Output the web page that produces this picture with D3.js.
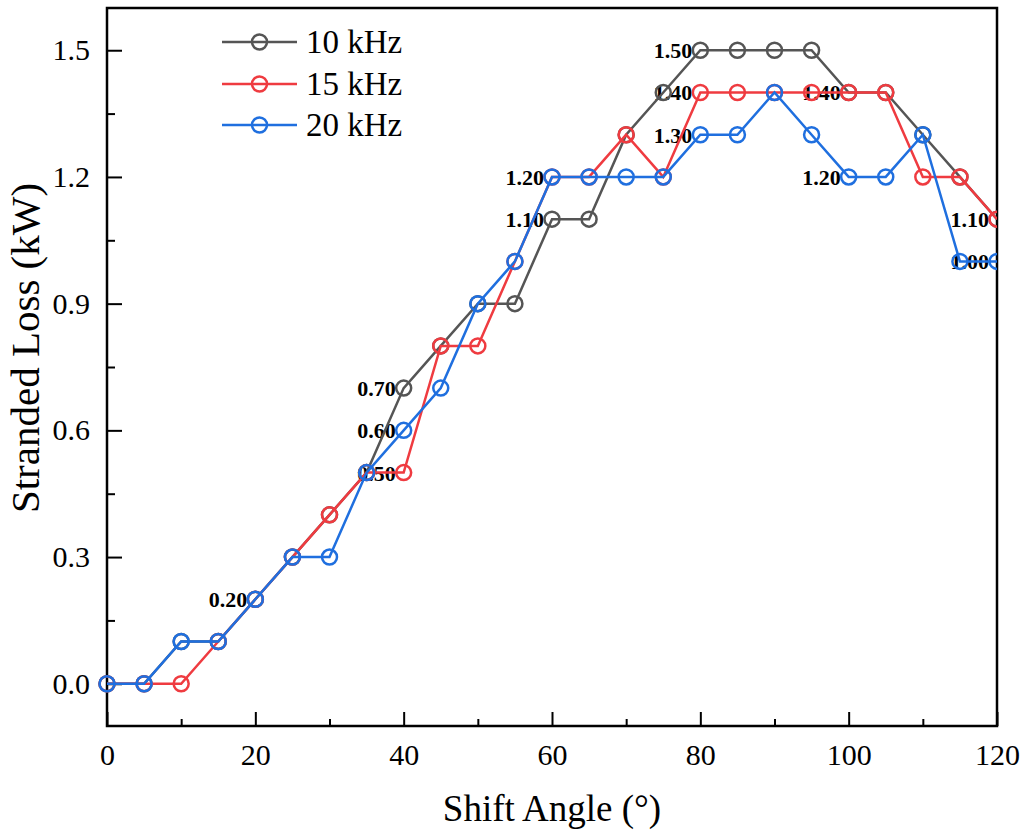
<!DOCTYPE html>
<html><head><meta charset="utf-8">
<script src="https://cdn.jsdelivr.net/npm/d3@7"></script>
<style>body{margin:0;background:#fff}svg{display:block}text{font-family:"Liberation Serif","Times New Roman",serif}</style>
</head><body>
<svg id="c" width="1025" height="834"></svg>
<script>
const angles = [0,5,10,15,20,25,30,35,40,45,50,55,60,65,70,75,80,85,90,95,100,105,110,115,120];
const loss10 = [0,0,0.1,0.1,0.2,0.3,0.4,0.5,0.7,0.8,0.9,0.9,1.1,1.1,1.3,1.4,1.5,1.5,1.5,1.5,1.4,1.4,1.3,1.2,1.1];
const loss15 = [0,0,0,0.1,0.2,0.3,0.4,0.5,0.5,0.8,0.8,1.0,1.2,1.2,1.3,1.2,1.4,1.4,1.4,1.4,1.4,1.4,1.2,1.2,1.1];
const loss20 = [0,0,0.1,0.1,0.2,0.3,0.3,0.5,0.6,0.7,0.9,1.0,1.2,1.2,1.2,1.2,1.3,1.3,1.4,1.3,1.2,1.2,1.3,1.0,1.0];
const seriesNames = ["10 kHz","15 kHz","20 kHz"];
const seriesColors = ["#555555","#ef3b40","#1f6fdf"];
const labelAngles = [20,40,40,40,60,60,80,80,80,100,100,120,120];
const labelValues = [0.2,0.5,0.6,0.7,1.1,1.2,1.5,1.4,1.3,1.4,1.2,1.1,1.0];
const xTicks = [0,20,40,60,80,100,120];
const xMinor = [10,30,50,70,90,110];
const yTicks = [0,0.3,0.6,0.9,1.2,1.5];
const yMinor = [0.15,0.45,0.75,1.05,1.35];

const svg = d3.select("#c");
const L=107, R=997, T=8, B=726;
const x = d3.scaleLinear().domain([0,120]).range([L,R]);
const y = d3.scaleLinear().domain([-0.1,1.6]).range([B,T]);
const series = [loss10, loss15, loss20];

// axes
const gx = svg.append("g").attr("transform",`translate(0,${B})`)
  .call(d3.axisBottom(x).tickValues(xTicks).tickSizeInner(-14).tickSizeOuter(0).tickPadding(18).tickFormat(d3.format("d")));
const gxm = svg.append("g").attr("transform",`translate(0,${B})`)
  .call(d3.axisBottom(x).tickValues(xMinor).tickSizeInner(-7).tickSizeOuter(0).tickFormat(""));
const gy = svg.append("g").attr("transform",`translate(${L},0)`)
  .call(d3.axisLeft(y).tickValues(yTicks).tickSizeInner(-15).tickSizeOuter(0).tickPadding(17).tickFormat(d3.format(".1f")));
const gym = svg.append("g").attr("transform",`translate(${L},0)`)
  .call(d3.axisLeft(y).tickValues(yMinor).tickSizeInner(-8).tickSizeOuter(0).tickFormat(""));
[gx,gxm,gy,gym].forEach(g=>{
  g.select(".domain").remove();
  g.selectAll("line").attr("stroke","#000").attr("stroke-width",2);
  g.selectAll("text").attr("fill","#000").attr("font-size",30).attr("font-family","Liberation Serif");
});
// frame
svg.append("rect").attr("x",L).attr("y",T).attr("width",R-L).attr("height",B-T)
  .attr("fill","none").attr("stroke","#000").attr("stroke-width",2.5);

// axis titles
svg.append("text").attr("x",552).attr("y",821).attr("text-anchor","middle")
  .attr("font-size",37).text("Shift Angle (°)");
svg.append("text").attr("transform",`translate(39,348) rotate(-90)`).attr("text-anchor","middle")
  .attr("font-size",41).text("Stranded Loss (kW)");

// data labels
svg.append("g").selectAll("text").data(labelAngles).join("text")
  .attr("x",(d)=>x(d)-8).attr("y",(d,i)=>y(labelValues[i])+8)
  .attr("text-anchor","end").attr("font-weight","bold").attr("font-size",22)
  .attr("fill","#000").text((d,i)=>labelValues[i].toFixed(2));

// series
const line = d3.line().x((d,i)=>x(angles[i])).y(d=>y(d));
svg.append("clipPath").attr("id","clip").append("rect")
  .attr("x",L-10).attr("y",T).attr("width",R-L+10).attr("height",B-T);
series.forEach((s,k)=>{
  const g = svg.append("g").attr("clip-path","url(#clip)");
  g.append("path").datum(s).attr("d",line).attr("fill","none")
    .attr("stroke",seriesColors[k]).attr("stroke-width",2.5);
  g.selectAll("circle").data(s).join("circle")
    .attr("cx",(d,i)=>x(angles[i])).attr("cy",d=>y(d)).attr("r",7.5)
    .attr("fill","none").attr("stroke",seriesColors[k]).attr("stroke-width",2.5);
});

// legend
const legY = [42,84,125];
seriesNames.forEach((n,k)=>{
  const g = svg.append("g");
  g.append("line").attr("x1",222).attr("x2",297).attr("y1",legY[k]).attr("y2",legY[k])
    .attr("stroke",seriesColors[k]).attr("stroke-width",2.5);
  g.append("circle").attr("cx",259.5).attr("cy",legY[k]).attr("r",7.5)
    .attr("fill","none").attr("stroke",seriesColors[k]).attr("stroke-width",2.5);
  g.append("text").attr("x",306).attr("y",legY[k]+11).attr("font-size",33).attr("fill","#000").text(n);
});
</script>
</body></html>
